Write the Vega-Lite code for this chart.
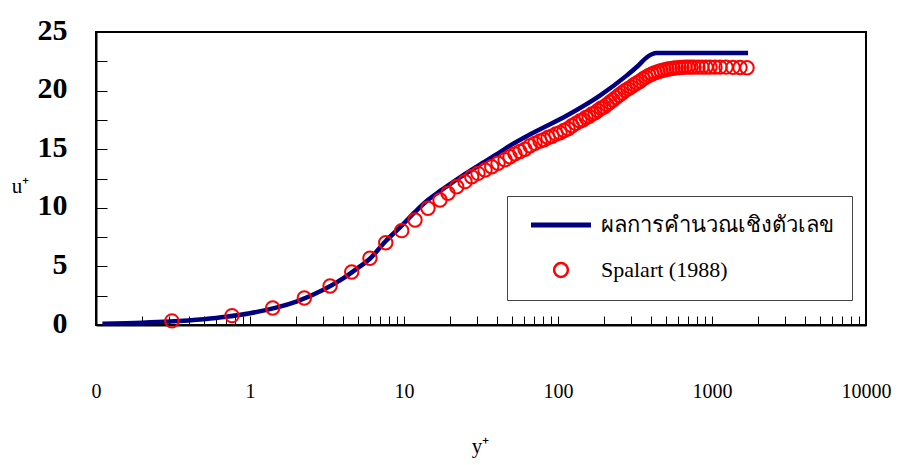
{
  "$schema": "https://vega.github.io/schema/vega-lite/v6.json",
  "width": 770,
  "height": 293,
  "autosize": {"type": "none"},
  "padding": {"left": 96, "top": 32, "right": 35, "bottom": 140},
  "background": "white",
  "datasets": {
    "calc": [
      {"yplus": 0.11, "u": 0.11, "series": "ผลการคำนวณเชิงตัวเลข"},
      {"yplus": 0.2, "u": 0.2, "series": "ผลการคำนวณเชิงตัวเลข"},
      {"yplus": 0.3, "u": 0.3, "series": "ผลการคำนวณเชิงตัวเลข"},
      {"yplus": 0.5, "u": 0.5, "series": "ผลการคำนวณเชิงตัวเลข"},
      {"yplus": 0.7, "u": 0.7, "series": "ผลการคำนวณเชิงตัวเลข"},
      {"yplus": 1, "u": 1, "series": "ผลการคำนวณเชิงตัวเลข"},
      {"yplus": 1.5, "u": 1.5, "series": "ผลการคำนวณเชิงตัวเลข"},
      {"yplus": 2, "u": 2, "series": "ผลการคำนวณเชิงตัวเลข"},
      {"yplus": 3, "u": 3, "series": "ผลการคำนวณเชิงตัวเลข"},
      {"yplus": 4, "u": 3.95, "series": "ผลการคำนวณเชิงตัวเลข"},
      {"yplus": 5, "u": 4.85, "series": "ผลการคำนวณเชิงตัวเลข"},
      {"yplus": 6, "u": 5.65, "series": "ผลการคำนวณเชิงตัวเลข"},
      {"yplus": 7.6, "u": 7.15, "series": "ผลการคำนวณเชิงตัวเลข"},
      {"yplus": 9.7, "u": 8.5, "series": "ผลการคำนวณเชิงตัวเลข"},
      {"yplus": 11.8, "u": 9.65, "series": "ผลการคำนวณเชิงตัวเลข"},
      {"yplus": 14.1, "u": 10.6, "series": "ผลการคำนวณเชิงตัวเลข"},
      {"yplus": 17, "u": 11.4, "series": "ผลการคำนวณเชิงตัวเลข"},
      {"yplus": 20, "u": 12.05, "series": "ผลการคำนวณเชิงตัวเลข"},
      {"yplus": 23.1, "u": 12.6, "series": "ผลการคำนวณเชิงตัวเลข"},
      {"yplus": 30.4, "u": 13.6, "series": "ผลการคำนวณเชิงตัวเลข"},
      {"yplus": 42, "u": 14.75, "series": "ผลการคำนวณเชิงตัวเลข"},
      {"yplus": 48.8, "u": 15.3, "series": "ผลการคำนวณเชิงตัวเลข"},
      {"yplus": 69, "u": 16.4, "series": "ผลการคำนวณเชิงตัวเลข"},
      {"yplus": 115, "u": 17.9, "series": "ผลการคำนวณเชิงตัวเลข"},
      {"yplus": 188, "u": 19.6, "series": "ผลการคำนวณเชิงตัวเลข"},
      {"yplus": 280, "u": 21.3, "series": "ผลการคำนวณเชิงตัวเลข"},
      {"yplus": 330, "u": 22.1, "series": "ผลการคำนวณเชิงตัวเลข"},
      {"yplus": 378, "u": 22.85, "series": "ผลการคำนวณเชิงตัวเลข"},
      {"yplus": 407, "u": 23.1, "series": "ผลการคำนวณเชิงตัวเลข"},
      {"yplus": 437, "u": 23.2, "series": "ผลการคำนวณเชิงตัวเลข"},
      {"yplus": 1714, "u": 23.2, "series": "ผลการคำนวณเชิงตัวเลข"}
    ],
    "spalart": [
      {"yplus": 0.311, "u": 0.35, "series": "Spalart (1988)"},
      {"yplus": 0.764, "u": 0.8, "series": "Spalart (1988)"},
      {"yplus": 1.404, "u": 1.45, "series": "Spalart (1988)"},
      {"yplus": 2.253, "u": 2.3, "series": "Spalart (1988)"},
      {"yplus": 3.31, "u": 3.33, "series": "Spalart (1988)"},
      {"yplus": 4.576, "u": 4.52, "series": "Spalart (1988)"},
      {"yplus": 6.01, "u": 5.69, "series": "Spalart (1988)"},
      {"yplus": 7.61, "u": 7.02, "series": "Spalart (1988)"},
      {"yplus": 9.66, "u": 8.05, "series": "Spalart (1988)"},
      {"yplus": 11.79, "u": 8.96, "series": "Spalart (1988)"},
      {"yplus": 14.31, "u": 9.96, "series": "Spalart (1988)"},
      {"yplus": 17.13, "u": 10.67, "series": "Spalart (1988)"},
      {"yplus": 19.31, "u": 11.24, "series": "Spalart (1988)"},
      {"yplus": 21.99, "u": 11.8, "series": "Spalart (1988)"},
      {"yplus": 24.9, "u": 12.23, "series": "Spalart (1988)"},
      {"yplus": 27.52, "u": 12.65, "series": "Spalart (1988)"},
      {"yplus": 30.23, "u": 12.94, "series": "Spalart (1988)"},
      {"yplus": 33.57, "u": 13.23, "series": "Spalart (1988)"},
      {"yplus": 37.12, "u": 13.5, "series": "Spalart (1988)"},
      {"yplus": 40.78, "u": 13.8, "series": "Spalart (1988)"},
      {"yplus": 45.27, "u": 14.1, "series": "Spalart (1988)"},
      {"yplus": 48.79, "u": 14.35, "series": "Spalart (1988)"},
      {"yplus": 52.58, "u": 14.6, "series": "Spalart (1988)"},
      {"yplus": 56.64, "u": 14.8, "series": "Spalart (1988)"},
      {"yplus": 61.06, "u": 15.0, "series": "Spalart (1988)"},
      {"yplus": 65.8, "u": 15.3, "series": "Spalart (1988)"},
      {"yplus": 70.89, "u": 15.5, "series": "Spalart (1988)"},
      {"yplus": 76.4, "u": 15.7, "series": "Spalart (1988)"},
      {"yplus": 81.11, "u": 15.8, "series": "Spalart (1988)"},
      {"yplus": 86.11, "u": 16.0, "series": "Spalart (1988)"},
      {"yplus": 91.42, "u": 16.1, "series": "Spalart (1988)"},
      {"yplus": 97.05, "u": 16.3, "series": "Spalart (1988)"},
      {"yplus": 103.0, "u": 16.4, "series": "Spalart (1988)"},
      {"yplus": 109.4, "u": 16.6, "series": "Spalart (1988)"},
      {"yplus": 116.1, "u": 16.75, "series": "Spalart (1988)"},
      {"yplus": 123.3, "u": 17.0, "series": "Spalart (1988)"},
      {"yplus": 130.9, "u": 17.2, "series": "Spalart (1988)"},
      {"yplus": 139.0, "u": 17.4, "series": "Spalart (1988)"},
      {"yplus": 145.3, "u": 17.5, "series": "Spalart (1988)"},
      {"yplus": 152.0, "u": 17.7, "series": "Spalart (1988)"},
      {"yplus": 158.9, "u": 17.8, "series": "Spalart (1988)"},
      {"yplus": 166.3, "u": 18.0, "series": "Spalart (1988)"},
      {"yplus": 173.9, "u": 18.1, "series": "Spalart (1988)"},
      {"yplus": 181.8, "u": 18.3, "series": "Spalart (1988)"},
      {"yplus": 190.2, "u": 18.5, "series": "Spalart (1988)"},
      {"yplus": 198.9, "u": 18.6, "series": "Spalart (1988)"},
      {"yplus": 208.0, "u": 18.8, "series": "Spalart (1988)"},
      {"yplus": 217.6, "u": 19.0, "series": "Spalart (1988)"},
      {"yplus": 227.5, "u": 19.2, "series": "Spalart (1988)"},
      {"yplus": 238.0, "u": 19.4, "series": "Spalart (1988)"},
      {"yplus": 248.9, "u": 19.6, "series": "Spalart (1988)"},
      {"yplus": 260.3, "u": 19.8, "series": "Spalart (1988)"},
      {"yplus": 272.3, "u": 20.0, "series": "Spalart (1988)"},
      {"yplus": 284.8, "u": 20.15, "series": "Spalart (1988)"},
      {"yplus": 297.9, "u": 20.3, "series": "Spalart (1988)"},
      {"yplus": 311.5, "u": 20.5, "series": "Spalart (1988)"},
      {"yplus": 325.8, "u": 20.65, "series": "Spalart (1988)"},
      {"yplus": 340.8, "u": 20.8, "series": "Spalart (1988)"},
      {"yplus": 356.4, "u": 21.0, "series": "Spalart (1988)"},
      {"yplus": 372.8, "u": 21.15, "series": "Spalart (1988)"},
      {"yplus": 389.9, "u": 21.3, "series": "Spalart (1988)"},
      {"yplus": 407.8, "u": 21.42, "series": "Spalart (1988)"},
      {"yplus": 426.5, "u": 21.52, "series": "Spalart (1988)"},
      {"yplus": 446.1, "u": 21.61, "series": "Spalart (1988)"},
      {"yplus": 466.6, "u": 21.69, "series": "Spalart (1988)"},
      {"yplus": 488.0, "u": 21.76, "series": "Spalart (1988)"},
      {"yplus": 510.4, "u": 21.82, "series": "Spalart (1988)"},
      {"yplus": 533.8, "u": 21.87, "series": "Spalart (1988)"},
      {"yplus": 558.3, "u": 21.91, "series": "Spalart (1988)"},
      {"yplus": 583.9, "u": 21.94, "series": "Spalart (1988)"},
      {"yplus": 610.7, "u": 21.96, "series": "Spalart (1988)"},
      {"yplus": 638.7, "u": 21.98, "series": "Spalart (1988)"},
      {"yplus": 668.1, "u": 22.0, "series": "Spalart (1988)"},
      {"yplus": 698.7, "u": 22.0, "series": "Spalart (1988)"},
      {"yplus": 730.8, "u": 22.0, "series": "Spalart (1988)"},
      {"yplus": 764.3, "u": 22.0, "series": "Spalart (1988)"},
      {"yplus": 811.3, "u": 22.0, "series": "Spalart (1988)"},
      {"yplus": 861.0, "u": 22.0, "series": "Spalart (1988)"},
      {"yplus": 914.6, "u": 22.0, "series": "Spalart (1988)"},
      {"yplus": 970.5, "u": 22.0, "series": "Spalart (1988)"},
      {"yplus": 1046, "u": 22.0, "series": "Spalart (1988)"},
      {"yplus": 1127, "u": 22.0, "series": "Spalart (1988)"},
      {"yplus": 1233, "u": 22.0, "series": "Spalart (1988)"},
      {"yplus": 1369, "u": 21.98, "series": "Spalart (1988)"},
      {"yplus": 1520, "u": 21.97, "series": "Spalart (1988)"},
      {"yplus": 1688, "u": 21.95, "series": "Spalart (1988)"}
    ]
  },
  "encoding": {
    "x": {
      "field": "yplus",
      "type": "quantitative",
      "scale": {"type": "log", "domain": [0.1, 10000], "nice": false},
      "axis": {
        "values": [0.1, 0.2, 0.3, 0.4, 0.5, 0.6, 0.7, 0.8, 0.9, 1, 2, 3, 4, 5, 6, 7, 8, 9, 10, 20, 30, 40, 50, 60, 70, 80, 90, 100, 200, 300, 400, 500, 600, 700, 800, 900, 1000, 2000, 3000, 4000, 5000, 6000, 7000, 8000, 9000, 10000],
        "labelExpr": "datum.value == 0.1 ? '0' : ((datum.value == 1 || datum.value == 10 || datum.value == 100 || datum.value == 1000 || datum.value == 10000) ? format(datum.value, 'd') : '')",
        "labelOverlap": false,
        "labelFlush": false,
        "tickSize": -9,
        "tickColor": "black",
        "tickWidth": 1,
        "labelPadding": 65,
        "labelFont": "Liberation Serif",
        "labelFontSize": 20,
        "labelColor": "black",
        "grid": false,
        "domainColor": "black",
        "domainWidth": 2,
        "title": "y⁺",
        "titleX": 384,
        "titleY": 127,
        "titleAlign": "center",
        "titleBaseline": "alphabetic",
        "titleFont": "Liberation Serif",
        "titleFontSize": 21,
        "titleFontWeight": "normal",
        "titleColor": "black"
      }
    },
    "y": {
      "field": "u",
      "type": "quantitative",
      "scale": {"domain": [0, 25], "nice": false},
      "axis": {
        "values": [0, 2.5, 5, 7.5, 10, 12.5, 15, 17.5, 20, 22.5, 25],
        "labelExpr": "datum.value % 5 == 0 ? datum.label : ''",
        "labelOverlap": false,
        "labelFlush": false,
        "tickSize": -11,
        "tickColor": "black",
        "tickWidth": 1,
        "labelPadding": 40,
        "labelFont": "Liberation Serif",
        "labelFontSize": 30,
        "labelFontWeight": "bold",
        "labelColor": "black",
        "labelBaseline": "middle",
        "labelOffset": -2,
        "grid": false,
        "domainColor": "black",
        "domainWidth": 2,
        "title": "u⁺",
        "titleAngle": 0,
        "titleX": -76,
        "titleY": 160,
        "titleAlign": "center",
        "titleBaseline": "alphabetic",
        "titleFont": "Liberation Serif",
        "titleFontSize": 21,
        "titleFontWeight": "normal",
        "titleColor": "black"
      }
    },
    "color": {
      "field": "series",
      "type": "nominal",
      "scale": {"domain": ["ผลการคำนวณเชิงตัวเลข", "Spalart (1988)"], "range": ["#000080", "#ff0000"]},
      "legend": {
        "orient": "none",
        "legendX": 411,
        "legendY": 164,
        "title": null,
        "fillColor": "white",
        "strokeColor": "#444444",
        "padding": 18,
        "labelFont": "Liberation Serif, serif",
        "labelFontSize": 22,
        "labelColor": "black",
        "labelLimit": 400,
        "labelOffset": 29,
        "symbolOffset": 25,
        "symbolSize": 3600,
        "symbolType": "stroke",
        "symbolStrokeWidth": 5,
        "rowPadding": 22,
        "encode": {
          "symbols": {
            "update": {
              "shape": {"signal": "datum.value === 'Spalart (1988)' ? 'circle' : 'stroke'"},
              "size": {"signal": "datum.value === 'Spalart (1988)' ? 190 : 3600"},
              "strokeWidth": {"signal": "datum.value === 'Spalart (1988)' ? 2.5 : 5"},
              "fill": {"value": "transparent"}
            }
          }
        }
      }
    }
  },
  "layer": [
    {
      "data": {"name": "calc"},
      "mark": {"type": "line", "strokeWidth": 4.5, "interpolate": "monotone"}
    },
    {
      "data": {"name": "spalart"},
      "mark": {"type": "point", "shape": "circle", "filled": false, "size": 180, "strokeWidth": 2, "opacity": 1}
    }
  ],
  "config": {
    "view": {"stroke": "black", "strokeWidth": 2},
    "font": "Liberation Serif",
    "legend": {"labelFont": "Liberation Serif, serif"}
  }
}
